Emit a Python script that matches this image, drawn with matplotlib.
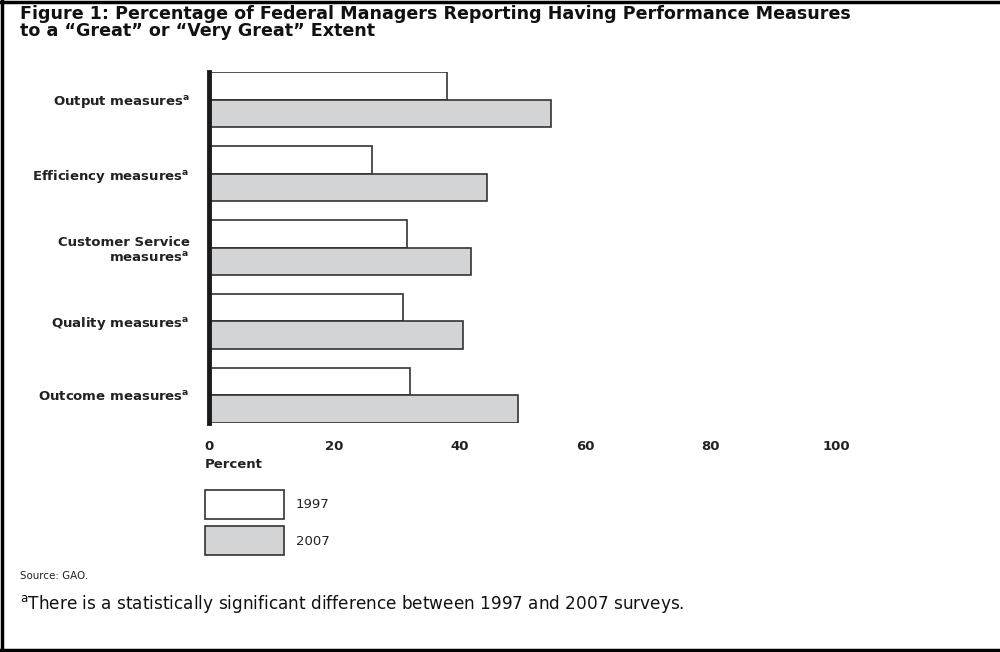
import matplotlib
matplotlib.use('Agg')
import matplotlib.pyplot as plt
from matplotlib.lines import Line2D
import numpy as np

plt.rcParams['font.family'] = ['DejaVu Sans']
plt.rcParams['mathtext.fontset'] = 'dejavusans'

categories = ['Output measures$^{\\mathbf{a}}$',
              'Efficiency measures$^{\\mathbf{a}}$',
              'Customer Service\nmeasures$^{\\mathbf{a}}$',
              'Quality measures$^{\\mathbf{a}}$',
              'Outcome measures$^{\\mathbf{a}}$']
years = ['1997', '2007']
v1997 = [38, 26, 31.6, 31, 32]
v2007 = [54.6, 44.3, 41.8, 40.5, 49.3]
xticks = [0, 20, 40, 60, 80, 100]

fig = plt.figure(figsize=(10, 6.52), dpi=100)
W, H = 1000, 652

# axes placed in pixel terms
ax = fig.add_axes([209 / W, 1 - 423 / H, 627 / W, 351 / H])

h = 0.372
y = np.arange(len(categories))
edge = '#333333'
b1 = ax.barh(y - h / 2, v1997, height=h, color='white', edgecolor=edge, linewidth=1.2, label=years[0])
b2 = ax.barh(y + h / 2, v2007, height=h, color='#d3d4d6', edgecolor=edge, linewidth=1.2, label=years[1])

ax.set_xlim(0, 100)
ax.set_ylim(len(categories) - 1 + h, -h)
for s in ['top', 'right', 'bottom']:
    ax.spines[s].set_visible(False)
ax.spines['left'].set_linewidth(3.5)
ax.spines['left'].set_color('#1a1a1a')

lab_fs = 9.5
ax.set_xticks(xticks)
ax.set_xticklabels([str(t) for t in xticks], fontsize=lab_fs, fontweight='bold', color='#222222')
ax.tick_params(axis='x', length=0, pad=12)
ax.set_yticks(y)
ax.set_yticklabels(categories, fontsize=lab_fs, fontweight='bold', color='#222222')
ax.tick_params(axis='y', length=0, pad=14)

fig.text(205 / W, 1 - 464 / H, 'Percent', fontsize=lab_fs, fontweight='bold', color='#222222',
         ha='left', va='center')

fig.text(20 / W, 1 - 5 / H,
         'Figure 1: Percentage of Federal Managers Reporting Having Performance Measures\n'
         'to a \u201cGreat\u201d or \u201cVery Great\u201d Extent',
         fontsize=12.6, fontweight='bold', color='#111111', ha='left', va='top', linespacing=0.9)

leg = fig.legend(handles=[b1, b2], labels=years, loc='upper left',
                 bbox_to_anchor=(205 / W, 1 - 490 / H), frameon=False, fontsize=lab_fs,
                 handlelength=5.95, handleheight=2.95, labelspacing=0.6, handletextpad=0.95,
                 borderpad=0, borderaxespad=0)
for t in leg.get_texts():
    t.set_color('#222222')

fig.text(20 / W, 1 - 576 / H, 'Source: GAO.', fontsize=7.4, color='#222222', ha='left', va='center')
fig.text(20 / W, 1 - 604 / H,
         '$^{\\mathrm{a}}$There is a statistically significant difference between 1997 and 2007 surveys.',
         fontsize=12.2, color='#111111', ha='left', va='center')

# page frame
fig.add_artist(Line2D([0, 1], [1 - 2 / H, 1 - 2 / H], transform=fig.transFigure, color='black', lw=2.5))
fig.add_artist(Line2D([2 / W, 2 / W], [0, 1], transform=fig.transFigure, color='black', lw=2.5))
fig.add_artist(Line2D([0, 1], [1 - 650 / H, 1 - 650 / H], transform=fig.transFigure, color='black', lw=2.5))

fig.savefig('out.png', dpi=100, facecolor='white')
